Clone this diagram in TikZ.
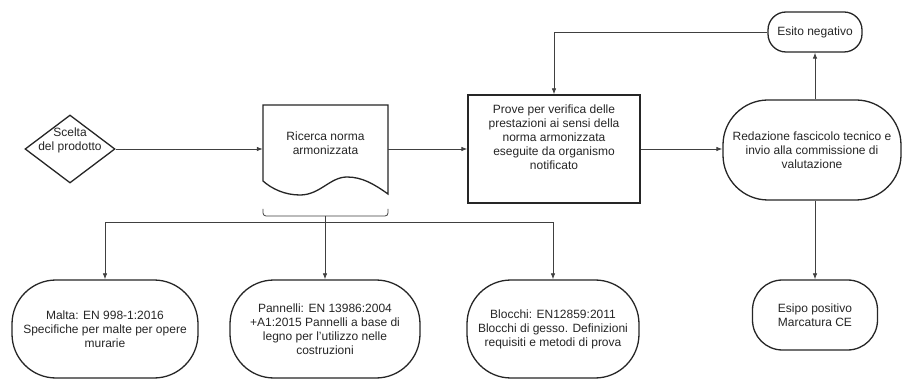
\documentclass[tikz,border=0pt]{standalone}
\usepackage{fontspec}
\setmainfont{Liberation Sans}
\usetikzlibrary{shapes.geometric,arrows.meta}
\begin{document}
\begin{tikzpicture}[x=1pt,y=-1pt,
  txt/.style={align=center, font=\fontsize{12}{14}\selectfont, inner sep=0pt, text=black!85},
  box/.style={draw=black!85, line width=1.3pt, txt},
  stad/.style={box, rounded corners=#1},
  conn/.style={draw=black!75, line width=0.8pt},
  arr/.style={conn, -{Latex[length=6pt,width=4.5pt]}}]
\useasboundingbox[fill=white] (0,0) rectangle (902,379);

% main row
\node[box, diamond, minimum width=90pt, minimum height=68pt,
  label={[txt,yshift=9pt]center:Scelta\\del prodotto}] (dia) at (70,149) {};
\node[minimum width=125pt, minimum height=88pt, inner sep=0pt] (doc) at (325.5,149) {};
\draw[draw=black!85, line width=1.3pt] (263,181) -- (263,105) -- (388,105) -- (388,194)
  .. controls (374,184) and (362,177) .. (347,177)
  .. controls (330,177) and (320,195) .. (300,195)
  .. controls (285,195) and (272,189) .. (263,181) -- cycle;
\node[txt] (doctxt) at (325.5,143) {Ricerca norma\\armonizzata};

\node[box, minimum width=172pt, minimum height=108pt,
  label={[txt,yshift=12pt]center:Prove per verifica delle\\prestazioni ai sensi della\\norma armonizzata\\eseguite da organismo\\notificato}] (pro) at (554,149) {};
\node[stad=45pt, minimum width=178pt, minimum height=100pt] (red) at (812,150)
  {Redazione fascicolo tecnico e\\invio alla commissione di\\valutazione};
\node[stad=18pt, minimum width=94pt, minimum height=40pt] (neg) at (815,32) {Esito negativo};
\node[stad=30pt, minimum width=125pt, minimum height=70pt] (pos) at (815,315) {Esipo positivo\\Marcatura CE};

% bottom row
\node[stad=44pt, minimum width=186pt, minimum height=98pt] (mal) at (105,329)
  {Malta: EN 998-1:2016\\Specifiche per malte per opere\\murarie};
\node[stad=44pt, minimum width=190pt, minimum height=98pt] (pan) at (325,329)
  {Pannelli: EN 13986:2004\\+A1:2015 Pannelli a base di\\legno per l'utilizzo nelle\\costruzioni};
\node[stad=44pt, minimum width=172pt, minimum height=98pt] (blo) at (553,329)
  {Blocchi: EN12859:2011\\Blocchi di gesso. Definizioni\\requisiti e metodi di prova};

% brace under document
\draw[conn, rounded corners=3pt] (263,209) -- (263,216) -- (388,216) -- (388,209);
\coordinate (bus) at (325,222);
\draw[conn] (325,216) -- (bus);

% connectors
\draw[arr] (dia.east) -- (doc.west);
\draw[arr] (doc.east) -- (pro.west);
\draw[arr] (pro.east) -- (pro.east -| red.west);
\draw[arr] (neg.south |- red.north) -- (neg.south);
\draw[arr] (neg.west) -| (pro.north);
\draw[arr] (pos.north |- red.south) -- (pos.north);
\draw[arr] (bus) -| (mal.north);
\draw[arr] (bus) -- (pan.north);
\draw[arr] (bus) -| (blo.north);
\end{tikzpicture}
\end{document}
